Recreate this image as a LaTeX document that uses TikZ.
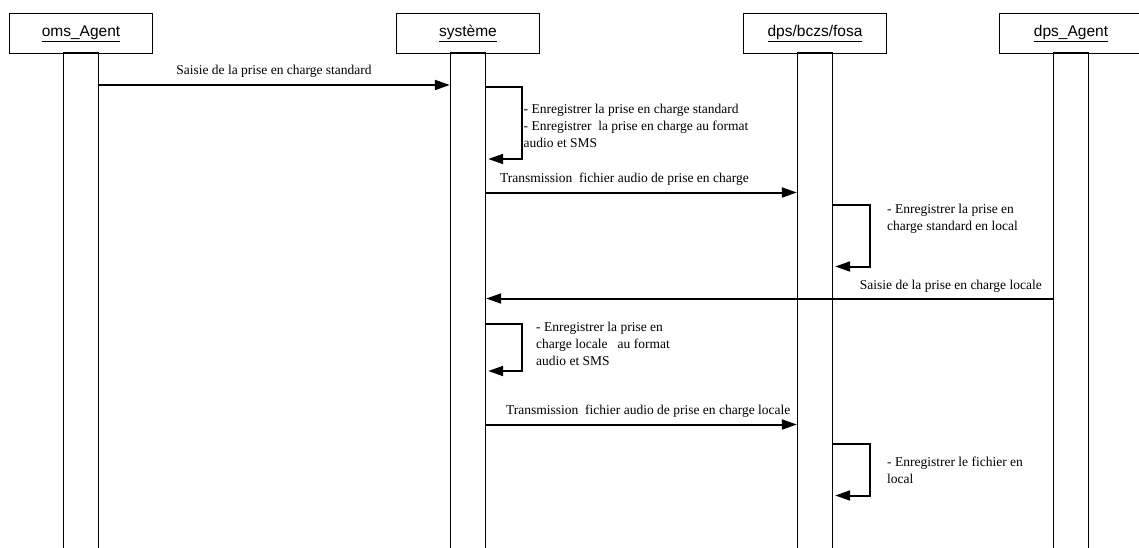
\documentclass[tikz,border=0pt]{standalone}
\usepackage{fontspec}
\setmainfont{Liberation Serif}
\setsansfont{Liberation Sans}
\usetikzlibrary{positioning,arrows.meta}
\tikzset{
head/.style={draw, line width=1.6pt, minimum width=143pt, minimum height=40pt, inner sep=0pt, font=\sffamily\fontsize{15.5}{18}\selectfont},
lifebar/.style={draw, line width=1.4pt, minimum width=35pt, minimum height=500pt, inner sep=0pt},
msg/.style={line width=2pt, -{Triangle[length=15pt,width=10pt]}},
txt/.style={inner sep=0pt, align=left, font=\fontsize{13.5}{17}\selectfont}
}
\begin{document}
\begin{tikzpicture}[x=1pt,y=-1pt]
\fill[white] (0,0) rectangle (1139,547);
\useasboundingbox (0,0) rectangle (1139,547);

\node (oms) at (81,33.5) [head] {\underline{oms\_Agent}};
\node (sys) at (468,33.5) [head] {\underline{système}};
\node (dps) at (815,33.5) [head] {\underline{dps/bczs/fosa}};
\node (dpsag) at (1071,33.5) [head] {\underline{dps\_Agent}};
\node (omsbar) [lifebar, below=-2pt of oms] {};
\node (sysbar) [lifebar, below=-2pt of sys] {};
\node (dpsbar) [lifebar, below=-2pt of dps] {};
\node (dpsagbar) [lifebar, below=-2pt of dpsag] {};

\node (m1) at (274,71) [txt] {Saisie de la prise en charge standard};
\node (m2) at (500,179) [txt, anchor=west] {Transmission\ \ fichier audio de prise en charge};
\node (m3) at (1042,286) [txt, anchor=east] {Saisie de la prise en charge locale};
\node (m4) at (506,411.5) [txt, anchor=west] {Transmission\ \ fichier audio de prise en charge locale};

\node (n1) at (523.5,126) [txt, anchor=west] {- Enregistrer la prise en charge standard\\- Enregistrer\ \ la prise en charge au format\\audio et SMS};
\node (n2) at (887,218.5) [txt, anchor=west] {- Enregistrer la prise en\\charge standard en local};
\node (n3) at (536,344) [txt, anchor=west] {- Enregistrer la prise en\\charge locale\ \ \ au format\\audio et SMS};
\node (n4) at (887,470.5) [txt, anchor=west] {- Enregistrer le fichier en\\local};

\draw[msg]
(omsbar.east |- 0,85) -- (sysbar.west |- 0,85);
\draw[msg]
(sysbar.east |- 0,87) -- ++(36,0) |- ([xshift=2pt]sysbar.east |- 0,159);
\draw[msg]
(sysbar.east |- 0,192.5) -- (dpsbar.west |- 0,192.5);
\draw[msg]
(dpsbar.east |- 0,204.5) -- ++(37,0) |- ([xshift=2pt]dpsbar.east |- 0,266.5);
\draw[msg]
(dpsagbar.west |- 0,298.5) -- (sysbar.east |- 0,298.5);
\draw[msg]
(sysbar.east |- 0,323.5) -- ++(36,0) |- ([xshift=2pt]sysbar.east |- 0,371);
\draw[msg]
(sysbar.east |- 0,424.5) -- (dpsbar.west |- 0,424.5);
\draw[msg]
(dpsbar.east |- 0,443.5) -- ++(37,0) |- ([xshift=2pt]dpsbar.east |- 0,495.5);
\end{tikzpicture}
\end{document}
